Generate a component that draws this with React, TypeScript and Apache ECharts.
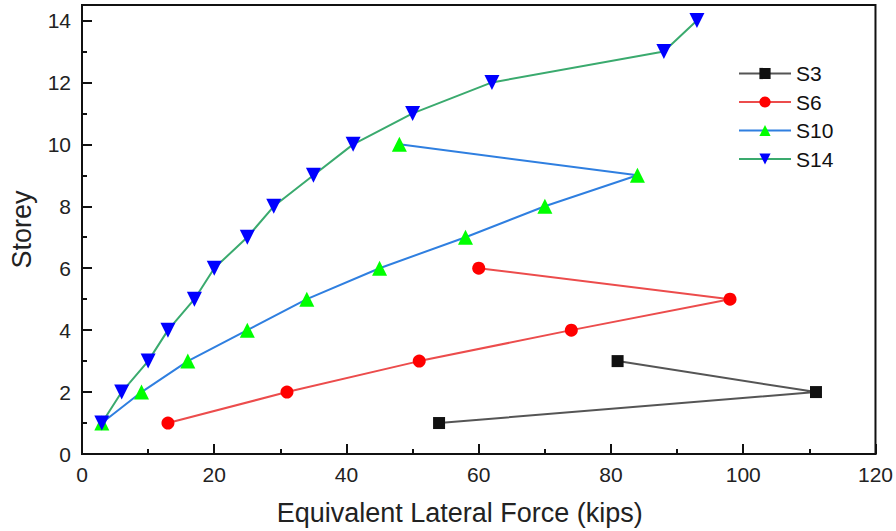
import React, { useEffect, useRef } from "react";
import * as echarts from "echarts";

const storeys3 = [1, 2, 3];
const force3 = [54, 111, 81];
const storeys6 = [1, 2, 3, 4, 5, 6];
const force6 = [13, 31, 51, 74, 98, 60];
const storeys10 = [1, 2, 3, 4, 5, 6, 7, 8, 9, 10];
const force10 = [3, 9, 16, 25, 34, 45, 58, 70, 84, 48];
const storeys14 = [1, 2, 3, 4, 5, 6, 7, 8, 9, 10, 11, 12, 13, 14];
const force14 = [3, 6, 10, 13, 17, 20, 25, 29, 35, 41, 50, 62, 88, 93];

const pairs = (xs: number[], ys: number[]) => xs.map((x, i) => [x, ys[i]]);

export default function App() {
  const ref = useRef<HTMLDivElement>(null);
  useEffect(() => {
    const chart = echarts.init(ref.current!, null, { renderer: "svg" });
    const font = "Liberation Sans, Arial, sans-serif";
    const axisCommon = {
      axisLine: { show: true, onZero: false, lineStyle: { color: "#111", width: 2 } },
      axisTick: { show: true, inside: true, length: 10, lineStyle: { color: "#111", width: 2 } },
      minorTick: { show: true, splitNumber: 2, length: 5, lineStyle: { color: "#111", width: 2 } },
      splitLine: { show: false },
      axisLabel: { color: "#222", fontSize: 21, fontFamily: font },
      nameLocation: "middle" as const,
    };
    chart.setOption({
      animation: false,
      backgroundColor: "#fff",
      grid: { left: 80, right: 19, top: 5, bottom: 76, show: true, borderColor: "#111", borderWidth: 2 },
      xAxis: {
        type: "value",
        min: 0,
        max: 120,
        interval: 20,
        name: "Equivalent Lateral Force (kips)",
        nameGap: 45,
        ...axisCommon,
        nameTextStyle: { color: "#222", fontSize: 27, fontFamily: font, padding: [0, 38, 0, 0] },
        axisLabel: { ...axisCommon.axisLabel, margin: 10 },
      },
      yAxis: {
        type: "value",
        min: 0,
        max: 14.5,
        interval: 2,
        name: "Storey",
        nameGap: 47,
        ...axisCommon,
        nameTextStyle: { color: "#222", fontSize: 27, fontFamily: font },
        axisLabel: { ...axisCommon.axisLabel, margin: 11, showMaxLabel: false },
      },
      legend: {
        orient: "vertical",
        left: 733,
        top: 58,
        itemWidth: 52,
        itemHeight: 14,
        itemGap: 7.5,
        textStyle: { fontSize: 21, color: "#111", fontFamily: font },
        data: ["S3", "S6", "S10", "S14"],
      },
      series: [
        {
          name: "S3",
          type: "line",
          data: pairs(force3, storeys3),
          symbol: "rect",
          symbolSize: 12,
          lineStyle: { color: "#555", width: 2 },
          itemStyle: { color: "#111" },
        },
        {
          name: "S6",
          type: "line",
          data: pairs(force6, storeys6),
          symbol: "circle",
          symbolSize: 13,
          lineStyle: { color: "#ec4c4c", width: 2 },
          itemStyle: { color: "#ff0000" },
        },
        {
          name: "S10",
          type: "line",
          data: pairs(force10, storeys10),
          symbol: "triangle",
          symbolSize: 15,
          lineStyle: { color: "#2f7fe0", width: 2 },
          itemStyle: { color: "#00ff00" },
        },
        {
          name: "S14",
          type: "line",
          data: pairs(force14, storeys14),
          symbol: "triangle",
          symbolRotate: 180,
          symbolSize: 15,
          lineStyle: { color: "#3aaa6e", width: 2 },
          itemStyle: { color: "#0000ff" },
        },
      ],
    });
    return () => chart.dispose();
  }, []);
  return <div ref={ref} style={{ width: 896, height: 531, position: "fixed", left: 0, top: 0 }} />;
}
